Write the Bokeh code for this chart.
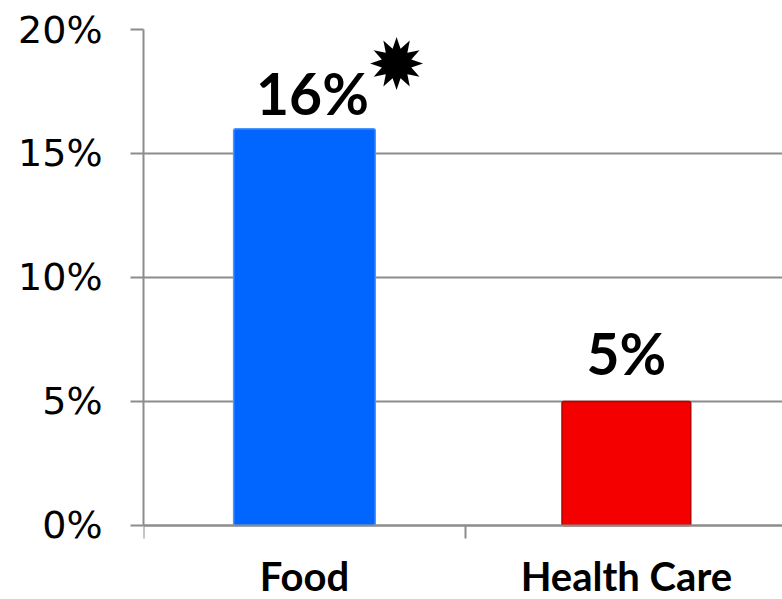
from bokeh.plotting import figure
from bokeh.models import ColumnDataSource, FixedTicker, Range1d, LinearAxis
from bokeh.core.properties import value
from bokeh.embed import file_html
from bokeh.resources import INLINE

# Share of spending increase by category
categories = ["Food", "Health Care"]
shares = [16, 5]           # percent
value_labels = ["16%", "5%"]

y_ticks = [0, 5, 10, 15, 20]
y_tick_labels = ["0%", "5%", "10%", "15%", "20%"]

# styling per bar
bar_colors = ["#0066FF", "#F50000"]
bar_lines = ["#4D94FF", "#B80000"]
bar_widths = [0.44, 0.40]
label_dx = [8, 0]
label_dy = [-2, -14]

xs = [i + 0.5 for i in range(len(categories))]
bounds = list(range(len(categories) + 1))

src = ColumnDataSource(dict(
    x=xs, top=shares, color=bar_colors, line=bar_lines, w=bar_widths,
    label=value_labels, dx=label_dx, dy=label_dy,
))
cat_src = ColumnDataSource(dict(x=xs, y=[0] * len(xs), name=categories))

# the frame runs to the bottom edge so the category names can sit under zero
p = figure(width=782, height=599, output_backend="svg", toolbar_location=None,
           x_range=Range1d(0, 1.985), y_range=Range1d(-2.984, 20),
           x_axis_type=None,
           min_border_left=143, min_border_right=0, min_border_top=29,
           min_border_bottom=0)
p.outline_line_color = None
p.background_fill_color = "white"

grid_col = "#8C8C8C"

p.xgrid.visible = False
p.ygrid.ticker = FixedTicker(ticks=y_ticks)
p.ygrid.grid_line_color = grid_col
p.ygrid.grid_line_width = 2

p.vbar(x="x", top="top", bottom=0, width="w", source=src, fill_color="color",
       line_color="line", line_width=1.5, border_radius=2)

p.text(x="x", y="top", text="label", source=src, x_offset="dx", y_offset="dy",
       text_align="center", text_baseline="bottom",
       text_font=value("Lato"), text_font_style="bold", text_font_size="57px",
       text_color="black")

# burst marker next to the food figure
p.text(x=[xs[0]], y=[shares[0]], text=["\u2739"], x_offset=92, y_offset=-64,
       text_align="center", text_baseline="middle",
       text_font=value("DejaVu Sans"), text_font_size="70px", text_color="black")

# category names under the zero line
p.text(x="x", y="y", text="name", source=cat_src, y_offset=27,
       text_align="center", text_baseline="top",
       text_font=value("Lato"), text_font_style="bold", text_font_size="40px",
       text_color="black")

ya = p.yaxis[0]
ya.ticker = FixedTicker(ticks=y_ticks)
ya.bounds = (0, 20)
ya.major_label_overrides = {t: s for t, s in zip(y_ticks, y_tick_labels)}
ya.axis_line_color = grid_col
ya.axis_line_width = 2
ya.major_tick_line_color = grid_col
ya.major_tick_line_width = 2
ya.major_tick_out = 13
ya.major_tick_in = 0
ya.minor_tick_line_color = None
ya.major_label_standoff = 28
ya.major_label_text_font = "DejaVu Sans"
ya.major_label_text_font_size = "38px"
ya.major_label_text_color = "black"

# category axis pinned at zero, with ticks at the category boundaries
xa = LinearAxis(ticker=FixedTicker(ticks=[], minor_ticks=bounds), fixed_location=0)
xa.axis_line_color = grid_col
xa.axis_line_width = 2
xa.major_tick_line_color = None
xa.major_label_text_font_size = "0px"
xa.major_label_standoff = 0
xa.minor_tick_line_color = grid_col
xa.minor_tick_line_width = 2
xa.minor_tick_out = 0
xa.minor_tick_in = 13
p.add_layout(xa, "above")

open("out.html", "w").write(file_html(p, INLINE))
